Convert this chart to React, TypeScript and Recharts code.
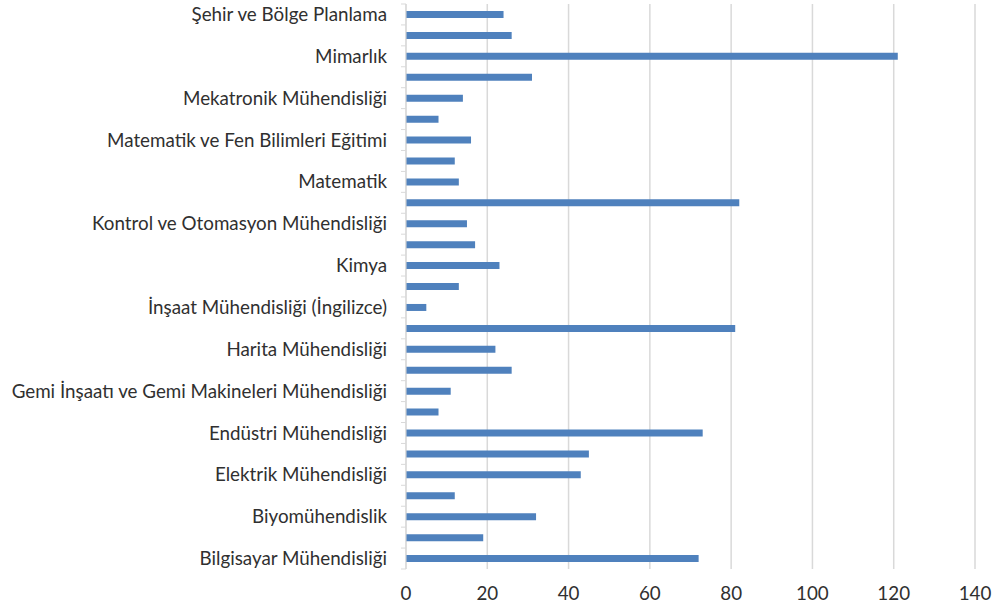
import React from "react";
import { Bar, BarChart, CartesianGrid, XAxis, YAxis } from "recharts";

// Departments, top to bottom as drawn (every other label is shown on the axis).
const CATEGORIES = [
  "Şehir ve Bölge Planlama",
  "Moleküler Biyoloji ve Genetik",
  "Mimarlık",
  "Metalurji ve Malzeme Mühendisliği",
  "Mekatronik Mühendisliği",
  "Matematik ve Fen Bilimleri Eğitimi (İngilizce)",
  "Matematik ve Fen Bilimleri Eğitimi",
  "Matematik Mühendisliği",
  "Matematik",
  "Makine Mühendisliği",
  "Kontrol ve Otomasyon Mühendisliği",
  "Kimya Mühendisliği",
  "Kimya",
  "İstatistik",
  "İnşaat Mühendisliği (İngilizce)",
  "İnşaat Mühendisliği",
  "Harita Mühendisliği",
  "Gıda Mühendisliği",
  "Gemi İnşaatı ve Gemi Makineleri Mühendisliği",
  "Fizik",
  "Endüstri Mühendisliği",
  "Elektronik ve Haberleşme Mühendisliği",
  "Elektrik Mühendisliği",
  "Çevre Mühendisliği",
  "Biyomühendislik",
  "Bilgisayar ve Öğretim Teknolojileri Eğitimi",
  "Bilgisayar Mühendisliği",
];

const VALUES = [
  24, 26, 121, 31, 14, 8, 16, 12, 13, 82, 15, 17, 23, 13, 5, 81, 22, 26, 11, 8,
  73, 45, 43, 12, 32, 19, 72,
];

const X_TICKS = [0, 20, 40, 60, 80, 100, 120, 140];

const FONT = "Lato, 'Open Sans', sans-serif";
const FONT_SIZE = 18.8;
const TEXT = "#303030";
const GRID = "#d9d9d9";

const data = CATEGORIES.map((name, i) => ({ name, value: VALUES[i] }));

// Labels on every other category, small tick marks on the category boundaries.
function CategoryTick(props: any) {
  const { x, y, payload, index } = props;
  const half = payload?.offset || 10.46;
  const axisX = x + 19;
  return (
    <g>
      <line x1={axisX - 5} x2={axisX} y1={y - half} y2={y - half} stroke={GRID} />
      {index === CATEGORIES.length - 1 && (
        <line x1={axisX - 5} x2={axisX} y1={y + half} y2={y + half} stroke={GRID} />
      )}
      {index % 2 === 0 && (
        <text
          x={x}
          y={y}
          dy="0.35em"
          textAnchor="end"
          fill={TEXT}
          fontSize={FONT_SIZE}
          fontFamily={FONT}
        >
          {payload.value}
        </text>
      )}
    </g>
  );
}

export default function App() {
  return (
    <div style={{ position: "absolute", left: 0, top: 0, background: "#fff" }}>
      <BarChart
        layout="vertical"
        width={995}
        height={605}
        data={data}
        margin={{ top: 4, right: 20, bottom: 6, left: 0 }}
      >
        <CartesianGrid horizontal={false} stroke={GRID} strokeWidth={1.5} />
        <XAxis
          type="number"
          domain={[0, 140]}
          ticks={X_TICKS}
          axisLine={false}
          tickLine={false}
          tickSize={0}
          tickMargin={18}
          height={30}
          tick={{ fill: TEXT, fontSize: FONT_SIZE, fontFamily: FONT }}
        />
        <YAxis
          type="category"
          dataKey="name"
          width={406}
          interval={0}
          tickLine={false}
          tickSize={5}
          tickMargin={14}
          axisLine={{ stroke: GRID }}
          tick={<CategoryTick />}
        />
        <Bar dataKey="value" fill="#4F81BD" barSize={7} isAnimationActive={false} />
      </BarChart>
    </div>
  );
}
